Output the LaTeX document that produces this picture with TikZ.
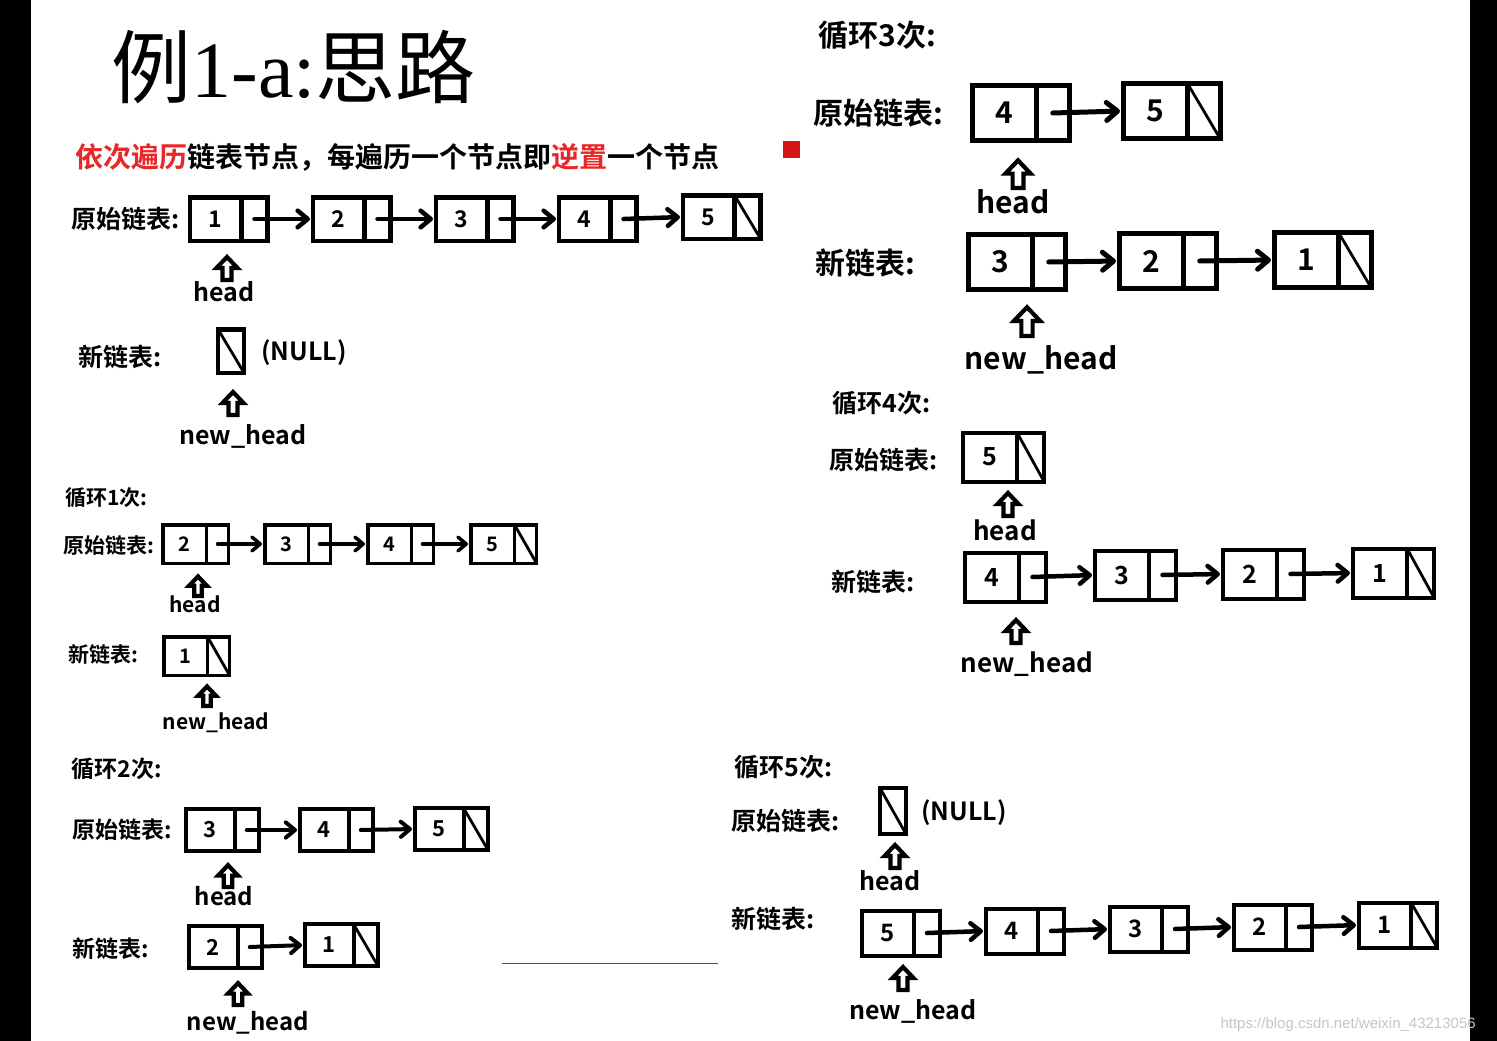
\documentclass[tikz,border=0pt]{standalone}
\usepackage{fontspec}
\setmainfont{Noto Sans CJK SC}[BoldFont=* Bold]
\newfontfamily\titleserif{Liberation Serif}
\newfontfamily\markfont{Liberation Sans}
\usepackage{xcolor}
\usetikzlibrary{arrows.meta, positioning}
\definecolor{hlred}{RGB}{232,40,40}
\definecolor{markred}{RGB}{215,20,20}
\definecolor{rulered}{RGB}{205,25,60}

\begin{document}
\begin{tikzpicture}[
    x=1pt, y=-1pt,
    dcell/.style={draw, rectangle, anchor=west, inner sep=0pt, outer sep=0pt},
    pcell/.style={draw, rectangle, inner sep=0pt, outer sep=0pt},
    ncell/.style={pcell, path picture={\draw[line width=2.8pt] (path picture bounding box.north west) -- (path picture bounding box.south east);}},
    cells/.style n args={5}{dcell/.append style={minimum width=#1, minimum height=#3, line width=#4, font=\bfseries\fontsize{#5}{#5}\selectfont}, pcell/.append style={minimum width=#2, minimum height=#3, line width=#4}},
    lnode/.pic={\node[dcell] (-d) at (0,0) {#1}; \node[pcell, right=0pt of -d] (-p) {};},
    lnull/.pic={\node[dcell] (-d) at (0,0) {#1}; \node[ncell, right=0pt of -d] (-p) {};},
    upptr/.pic={\draw[line width=4.2pt, line join=miter] (-4.5,0) -- (-4.5,-12) -- (-10.5,-12) -- (0,-23) -- (10.5,-12) -- (4.5,-12) -- (4.5,0) -- cycle;},
    nextptr/.style={line width=#1, line cap=round, shorten >=3pt, -{Straight Barb[length=2pt 1.8, width=4pt 2.8, round]}},
    lbl/.style={anchor=base west, font=\bfseries\fontsize{#1}{#1}\selectfont},
    hlbl/.style={anchor=base, font=\bfseries\fontsize{#1}{#1}\selectfont}
]
\fill[white] (0,0) rectangle (1497,1041);
\useasboundingbox (0,0) rectangle (1497,1041);

% title and hint
\node[anchor=base west, font=\fontsize{80}{80}\selectfont] (title) at (108,97) {例{\titleserif 1-a:}思路};
\node[lbl=28pt] (hint) at (72,167.6) {\textcolor{hlred}{依次遍历}链表节点，每遍历一个节点即\textcolor{hlred}{逆置}一个节点};
\fill[markred] (783,141) rectangle (800,158);

% start
\begin{scope}[cells={51.5pt}{26pt}{43.5pt}{4.5pt}{23pt}]
\node[lbl=25pt] (s0ol) at (68,228.5) {原始链表:};
\pic (s0o1) at (190,219) {lnode=1};
\pic (s0o2) at (313,219) {lnode=2};
\pic (s0o3) at (436,219) {lnode=3};
\pic (s0o4) at (559,219) {lnode=4};
\pic (s0o5) at (683,217) {lnull=5};
\foreach \a/\b in {1/2,2/3,3/4,4/5}
  \draw[nextptr=4.5pt] (s0o\a-p.center) -- (s0o\b-d.west);
\pic at (227,280) {upptr};
\node[hlbl=25pt] (s0h) at (224,301) {head};
\node[lbl=25pt] (s0nl) at (75,366.5) {新链表:};
\node[ncell, anchor=west] (s0n0) at (218,351) {};
\node[lbl=25pt] (s0null) at (258,360) {(NULL)};
\pic at (233,415) {upptr};
\node[hlbl=25pt] (s0nh) at (243,444) {new\_head};
\end{scope}

% loop 1
\begin{scope}[cells={43.5pt}{22pt}{38.5pt}{3.5pt}{20pt}]
\node[lbl=21pt] (s1t) at (62,505) {循环1次:};
\node[lbl=21pt] (s1ol) at (60,553) {原始链表:};
\pic (s1o2) at (163,544) {lnode=2};
\pic (s1o3) at (265,544) {lnode=3};
\pic (s1o4) at (368,544) {lnode=4};
\pic (s1o5) at (471,544) {lnull=5};
\foreach \a/\b in {2/3,3/4,4/5}
  \draw[nextptr=3.5pt] (s1o\a-p.center) -- (s1o\b-d.west);
\pic[scale=.85] at (198,596) {upptr};
\node[hlbl=21pt] (s1h) at (195,612) {head};
\node[lbl=21pt] (s1nl) at (65,662) {新链表:};
\pic (s1n1) at (164,656) {lnull=1};
\pic[scale=.85] at (207,706) {upptr};
\node[hlbl=21pt] (s1nh) at (216,729) {new\_head};
\end{scope}

% loop 2
\begin{scope}[cells={48.5pt}{24.5pt}{42pt}{4pt}{22pt}]
\node[lbl=23pt] (s2t) at (68,777) {循环2次:};
\node[lbl=23pt] (s2ol) at (69,838) {原始链表:};
\pic (s2o3) at (186,830) {lnode=3};
\pic (s2o4) at (300,830) {lnode=4};
\pic (s2o5) at (415,829) {lnull=5};
\foreach \a/\b in {3/4,4/5}
  \draw[nextptr=4pt] (s2o\a-p.center) -- (s2o\b-d.west);
\pic[scale=.95] at (228,887) {upptr};
\node[hlbl=24pt] (s2h) at (224,905) {head};
\node[lbl=23pt] (s2nl) at (69,957) {新链表:};
\pic (s2n2) at (189,947) {lnode=2};
\pic (s2n1) at (305,945) {lnull=1};
\draw[nextptr=4pt] (s2n2-p.center) -- (s2n1-d.west);
\pic[scale=.95] at (238,1005) {upptr};
\node[hlbl=24pt] (s2nh) at (248,1030) {new\_head};
\end{scope}
\draw[rulered, line width=1pt] (502,963) -- (718,963);

% loop 3
\begin{scope}[cells={64.5pt}{32.5pt}{55pt}{5pt}{30pt}]
\node[lbl=30pt] (s3t) at (815,47) {循环3次:};
\node[lbl=30pt] (s3ol) at (810,124) {原始链表:};
\pic (s3o4) at (972,113) {lnode=4};
\pic (s3o5) at (1123,111) {lnull=5};
\draw[nextptr=5pt] (s3o4-p.center) -- (s3o5-d.west);
\pic[scale=1.2] at (1018,188) {upptr};
\node[hlbl=30pt] (s3h) at (1013,213) {head};
\node[lbl=30pt] (s3nl) at (812,274) {新链表:};
\pic (s3n3) at (968,262) {lnode=3};
\pic (s3n2) at (1119,261) {lnode=2};
\pic (s3n1) at (1274,260) {lnull=1};
\foreach \a/\b in {3/2,2/1}
  \draw[nextptr=5pt] (s3n\a-p.center) -- (s3n\b-d.west);
\pic[scale=1.25] at (1027,336) {upptr};
\node[hlbl=30pt] (s3nh) at (1041,369) {new\_head};
\end{scope}

% loop 4
\begin{scope}[cells={54pt}{27pt}{49pt}{4pt}{25pt}]
\node[lbl=25pt] (s4t) at (829,412.5) {循环4次:};
\node[lbl=25pt] (s4ol) at (826,469.5) {原始链表:};
\pic (s4o5) at (963,457) {lnull=5};
\pic at (1008,516) {upptr};
\node[hlbl=26pt] (s4h) at (1005,540) {head};
\node[lbl=25pt] (s4nl) at (828,591.5) {新链表:};
\pic (s4n4) at (965,577) {lnode=4};
\pic (s4n3) at (1095,575) {lnode=3};
\pic (s4n2) at (1223,574) {lnode=2};
\pic (s4n1) at (1353,573) {lnull=1};
\foreach \a/\b in {4/3,3/2,2/1}
  \draw[nextptr=4.5pt] (s4n\a-p.center) -- (s4n\b-d.west);
\pic at (1016,643) {upptr};
\node[hlbl=26pt] (s4nh) at (1027,672) {new\_head};
\end{scope}

% loop 5
\begin{scope}[cells={52pt}{26pt}{45pt}{4pt}{24pt}]
\node[lbl=25pt] (s5t) at (731,776.5) {循环5次:};
\node[lbl=25pt] (s5ol) at (728,830.5) {原始链表:};
\node[ncell, anchor=west, minimum height=46pt] (s5o0) at (880,811) {};
\node[lbl=25pt] (s5null) at (918,820) {(NULL)};
\pic at (895,868) {upptr};
\node[hlbl=25pt] (s5h) at (890,890) {head};
\node[lbl=25pt] (s5nl) at (728,928.5) {新链表:};
\pic (s5n5) at (862,933) {lnode=5};
\pic (s5n4) at (986,931) {lnode=4};
\pic (s5n3) at (1110,929) {lnode=3};
\pic (s5n2) at (1234,927) {lnode=2};
\pic (s5n1) at (1359,925) {lnull=1};
\foreach \a/\b in {5/4,4/3,3/2,2/1}
  \draw[nextptr=4.5pt] (s5n\a-p.center) -- (s5n\b-d.west);
\pic at (903,990) {upptr};
\node[hlbl=25pt] (s5nh) at (913,1019) {new\_head};
\end{scope}

% screen edges
\fill[black] (0,0) rectangle (31,1041);
\fill[black] (1470,0) rectangle (1497,1041);
\node[anchor=base west, font=\markfont\fontsize{15}{15}\selectfont, text=gray!45] (mark) at (1217,1028) {https://blog.csdn.net/weixin\_43213056};
\end{tikzpicture}
\end{document}
